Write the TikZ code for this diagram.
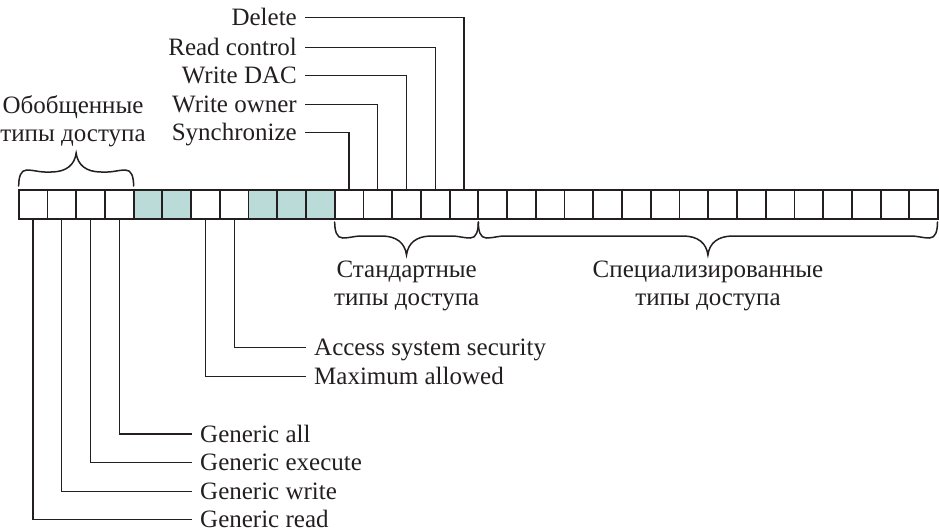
\documentclass[tikz,border=0pt]{standalone}
\usepackage{fontspec}
\setmainfont{Liberation Serif}
\definecolor{ink}{HTML}{231F20}
\definecolor{shade}{HTML}{BBDBD8}
% curly brace: #1 left x, #2 right x, #3 base y, #4 direction (-1 up, +1 down)
\newcommand\mybrace[4]{%
  \pgfmathsetmacro\bxm{(#1+#2)/2}%
  \pgfmathsetmacro\bya{#3+#4*9}%
  \pgfmathsetmacro\byc{#3+#4*16}%
  \pgfmathsetmacro\byb{#3+#4*14}%
  \pgfmathsetmacro\byn{#3+#4*21}%
  \pgfmathsetmacro\byt{#3+#4*33}%
  \draw[brc] (#1,#3)
    .. controls (#1,\bya) and ({#1+2},\byc) .. ({#1+8},\byc)
    .. controls ({#1+15},\byc) and ({#1+20},\byb) .. ({#1+26},\byb)
    -- ({\bxm-25},\byb)
    .. controls ({\bxm-10},\byb) and ({\bxm-1.5},\byn) .. (\bxm,\byt)
    .. controls ({\bxm+1.5},\byn) and ({\bxm+10},\byb) .. ({\bxm+25},\byb)
    -- ({#2-26},\byb)
    .. controls ({#2-20},\byb) and ({#2-15},\byc) .. ({#2-8},\byc)
    .. controls ({#2-2},\byc) and (#2,\bya) .. (#2,#3);}
\begin{document}
\begin{tikzpicture}[x=1pt,y=-1pt,
  font=\fontsize{25}{28}\selectfont,
  bit/.style={draw=ink,line width=1.8pt,minimum width=28.73pt,minimum height=28.7pt,inner sep=0pt,outer sep=0pt},
  conn/.style={draw=ink,line width=1.3pt},
  lbl/.style={text=ink,text height=16pt,text depth=0pt,inner xsep=8pt,inner ysep=0pt},
  grp/.style={text=ink,align=center,inner sep=0pt},
  brc/.style={draw=ink,line width=1.5pt,line cap=round,line join=miter,miter limit=20}]
\useasboundingbox (0,0) rectangle (939,531);
% bits
\foreach \i in {0,1,2,3,6,7,11,12,...,31}
  \node[bit,fill=white] (b\i) at ({18.7+28.73*(\i+0.5)},204.35) {};
\foreach \i in {4,5,8,9,10}
  \node[bit,fill=shade] (b\i) at ({18.7+28.73*(\i+0.5)},204.35) {};
% top labels
\node[lbl,anchor=east] (del) at (305,17.3) {Delete};
\node[lbl,anchor=east] (rc) at (305,47.3) {Read control\hspace{6pt}};
\node[lbl,anchor=east] (wd) at (305,75.7) {Write DAC};
\node[lbl,anchor=east] (wo) at (305,104.3) {Write owner\hspace{6pt}};
\node[lbl,anchor=east] (sy) at (305,132.7) {Synchronize};
\draw[conn] (b15.north) |- (del.east);
\draw[conn] (b14.north) |- (rc.east);
\draw[conn] (b13.north) |- (wd.east);
\draw[conn] (b12.north) |- (wo.east);
\draw[conn] (b11.north) |- (sy.east);
% bottom labels
\node[lbl,anchor=west] (ass) at (306,347.7) {Access system security};
\node[lbl,anchor=west] (max) at (306,376.7) {Maximum allowed};
\node[lbl,anchor=west] (gall) at (192,434) {Generic all};
\node[lbl,anchor=west] (gex) at (192,462.7) {Generic execute};
\node[lbl,anchor=west] (gwr) at (192,491.7) {Generic write};
\node[lbl,anchor=west] (grd) at (192,519.5) {Generic read};
\draw[conn] (b7.south) |- (ass.west);
\draw[conn] (b6.south) |- (max.west);
\draw[conn] (b3.south) |- (gall.west);
\draw[conn] (b2.south) |- (gex.west);
\draw[conn] (b1.south) |- (gwr.west);
\draw[conn] (b0.south) |- (grd.west);
% braces
\mybrace{18.7}{133.6}{186}{-1}
\mybrace{334.7}{478.3}{222}{1}
\mybrace{478.3}{937.5}{222}{1}
% group labels
\node[grp,anchor=north] (gt) at (73,95.5) {Обобщенные\\типы доступа};
\node[grp,anchor=north] (st) at (406.7,260.5) {Стандартные\\типы доступа};
\node[grp,anchor=north] (pt) at (708,260.5) {Специализированные\\типы доступа};
\end{tikzpicture}
\end{document}
